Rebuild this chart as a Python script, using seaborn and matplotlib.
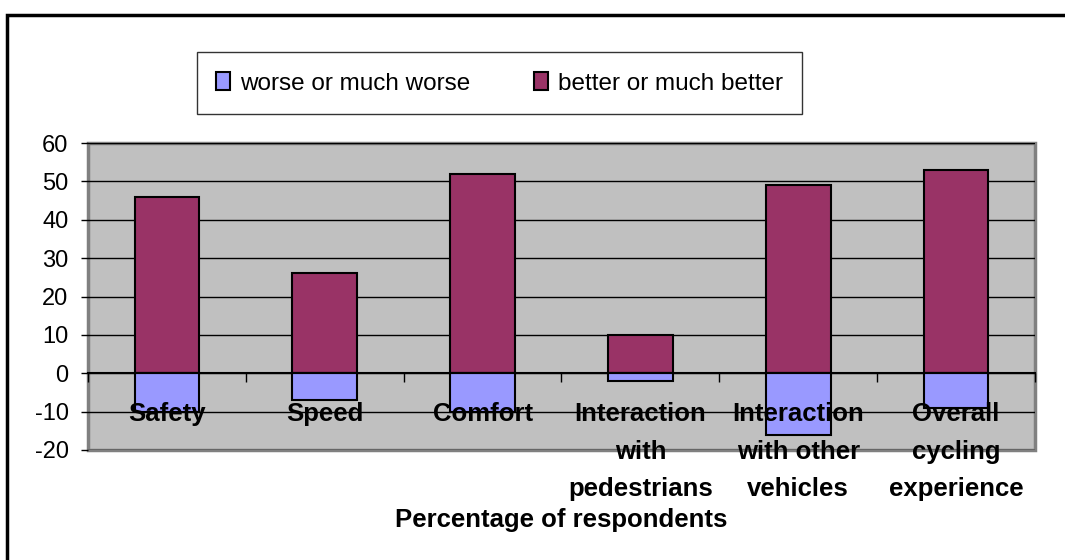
import matplotlib
matplotlib.use("Agg")
import matplotlib.pyplot as plt
import matplotlib.patches as mpatches
from matplotlib.ticker import FixedLocator
import seaborn as sns

categories = ["Safety", "Speed", "Comfort",
              "Interaction\nwith\npedestrians",
              "Interaction\nwith other\nvehicles",
              "Overall\ncycling\nexperience"]
worse = [-10, -7, -10, -2, -16, -9]
better = [46, 26, 52, 10, 49, 53]
series_names = ["worse or much worse", "better or much better"]
y_ticks = [-20, -10, 0, 10, 20, 30, 40, 50, 60]

c_worse = "#9999FF"
c_better = "#993366"

sns.set_style("white")
plt.rcParams["font.family"] = ["Liberation Sans", "DejaVu Sans"]
plt.rcParams["axes.unicode_minus"] = False
for k in ["text.color", "axes.labelcolor", "xtick.color", "ytick.color"]:
    plt.rcParams[k] = "black"

fig = plt.figure(figsize=(10.65, 5.6), dpi=100)
W, H = 1065, 560
ax = fig.add_axes([88 / W, 1 - 450 / H, (1035 - 88) / W, 307 / H])
ax.set_facecolor("#C0C0C0")

sns.barplot(x=categories, y=better, color=c_better, saturation=1, width=0.41,
            edgecolor="black", linewidth=1.5, ax=ax, zorder=3)
sns.barplot(x=categories, y=worse, color=c_worse, saturation=1, width=0.41,
            edgecolor="black", linewidth=1.5, ax=ax, zorder=3)

ax.set_xlim(-0.5, len(categories) - 0.5)
ax.set_ylim(-20, 60)
ax.set_yticks(y_ticks)
ax.grid(False)
for yv in y_ticks:
    ax.axhline(yv, color="black", linewidth=1, zorder=1)

# spines / borders
for s in ["top", "right", "left"]:
    ax.spines[s].set_visible(False)
ax.patch.set_edgecolor("#808080")
ax.patch.set_linewidth(2.5)
ax.spines["bottom"].set_position(("data", 0))
ax.spines["bottom"].set_color("black")
ax.spines["bottom"].set_linewidth(1.5)
ax.spines["bottom"].set_zorder(4)
ax.xaxis.set_zorder(5)
ax.yaxis.set_zorder(5)

ax.tick_params(axis="y", direction="out", length=5, width=1, color="black",
               labelsize=17, pad=9, left=True)
ax.tick_params(axis="x", which="major", length=0, pad=21, labelsize=18.5)
ax.xaxis.set_minor_locator(FixedLocator([i - 0.5 for i in range(len(categories) + 1)]))
ax.tick_params(axis="x", which="minor", direction="out", length=6.5, width=1,
               color="black", bottom=True)
for lab in ax.get_xticklabels():
    lab.set_fontweight("bold")
    lab.set_linespacing(1.7)

ax.set_ylabel("")
ax.set_xlabel("Percentage of respondents", fontsize=18.5, fontweight="bold")
ax.xaxis.set_label_coords(0.5, -0.19)

handles = [mpatches.Patch(facecolor=c_worse, edgecolor="black", linewidth=1.5),
           mpatches.Patch(facecolor=c_better, edgecolor="black", linewidth=1.5)]
leg = fig.legend(handles, series_names, ncol=2, loc="lower left",
                 bbox_to_anchor=(197 / W, 1 - 114 / H, 605 / W, 67 / H),
                 mode="expand", fontsize=17.5, frameon=True, fancybox=False,
                 handlelength=0.55, handleheight=0.8, handletextpad=0.4,
                 borderpad=0.8, borderaxespad=0, columnspacing=2.0)
leg.get_frame().set_edgecolor("black")
leg.get_frame().set_linewidth(1)

# outer chart border
fig.patches.append(mpatches.Rectangle((7 / W, -0.05), 1.05, 1 - 15 / H + 0.05,
                                      transform=fig.transFigure, fill=False,
                                      edgecolor="black", linewidth=2.5))

fig.savefig("out.png", dpi=100, facecolor="white")
